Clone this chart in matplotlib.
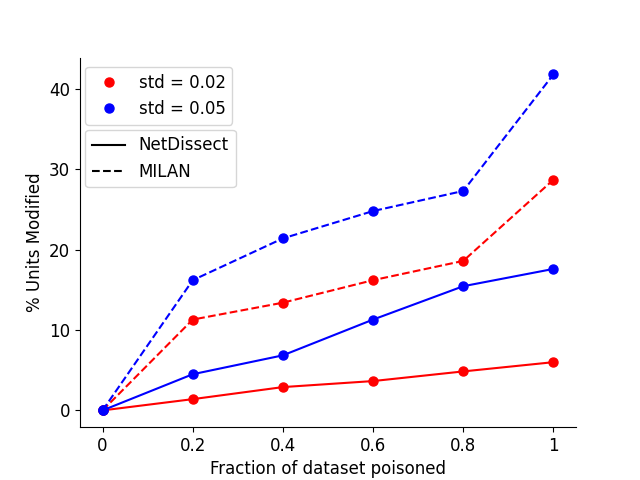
import matplotlib
matplotlib.use("Agg")
import matplotlib.pyplot as plt
from matplotlib.lines import Line2D

fractions = [0, 0.2, 0.4, 0.6, 0.8, 1.0]
tick_labels = ["0", "0.2", "0.4", "0.6", "0.8", "1"]

# % units modified
netdissect_002 = [0, 1.4, 2.9, 3.65, 4.85, 6.0]
netdissect_005 = [0, 4.5, 6.85, 11.3, 15.45, 17.6]
milan_002 = [0, 11.3, 13.4, 16.2, 18.6, 28.7]
milan_005 = [0, 16.2, 21.4, 24.8, 27.3, 41.8]

ms = 6.5
fig, ax = plt.subplots(figsize=(6.4, 4.8), dpi=100)

ax.plot(fractions, netdissect_002, color="red", linestyle="-", marker="o", markersize=ms)
ax.plot(fractions, milan_002, color="red", linestyle="--", marker="o", markersize=ms)
ax.plot(fractions, netdissect_005, color="blue", linestyle="-", marker="o", markersize=ms)
ax.plot(fractions, milan_005, color="blue", linestyle="--", marker="o", markersize=ms)

ax.spines["top"].set_visible(False)
ax.spines["right"].set_visible(False)

ax.set_xticks(fractions)
ax.set_xticklabels(tick_labels)
ax.tick_params(labelsize=12)
ax.set_xlabel("Fraction of dataset poisoned", fontsize=12)
ax.set_ylabel("% Units Modified", fontsize=12)

color_handles = [
    Line2D([], [], color="red", marker="o", linestyle="none", markersize=ms, label="std = 0.02"),
    Line2D([], [], color="blue", marker="o", linestyle="none", markersize=ms, label="std = 0.05"),
]
style_handles = [
    Line2D([], [], color="black", linestyle="-", label="NetDissect"),
    Line2D([], [], color="black", linestyle="--", label="MILAN"),
]
leg1 = ax.legend(handles=color_handles, loc="upper left", bbox_to_anchor=(0.011, 0.975),
                 borderaxespad=0, fontsize=12)
ax.add_artist(leg1)
ax.legend(handles=style_handles, loc="upper left", bbox_to_anchor=(0.011, 0.805),
          borderaxespad=0, fontsize=12)

fig.savefig("out.png")
